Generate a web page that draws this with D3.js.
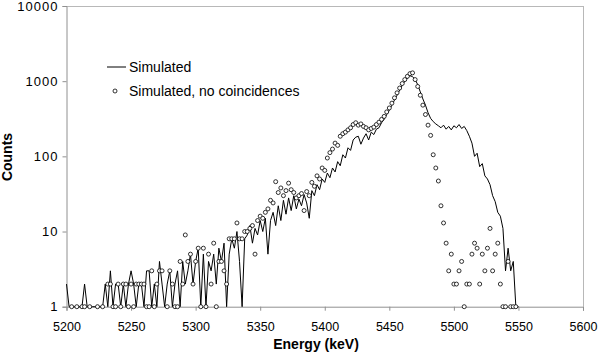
<!DOCTYPE html>
<html><head><meta charset="utf-8">
<script src="https://cdn.jsdelivr.net/npm/d3@7"></script>
<style>
html,body{margin:0;padding:0;background:#fff;}
text{font-family:"Liberation Sans",Arial,sans-serif;}
</style></head>
<body><svg id="c" width="598" height="353"></svg>
<script>
// Energy bins: start 5200 keV, 2 keV wide
const binStart = 5200, binWidth = 2;
const simulated = [
2,1,1,1,1,1,1,2,1,1,
1,1,1,1,1,2,1,3,1,2,
2,1,2,1,2,3,2,1,2,2,
1,3,3,1,2,1,4,2,1,2,
3,1,2,3,1,4,2,3,5,2,
4,6,1,5,1,4,3,5,2,6,
4,7,1,5,8,6,10,4,1,8,
9,12,7,11,9,14,10,15,5,14,
18,12,22,14,26,17,28,19,30,20,
27,22,31,24,15,35,30,42,36,50,
45,60,52,70,62,85,75,105,95,130,
120,165,180,185,145,175,200,165,210,195,
230,240,280,310,360,410,480,560,650,760,
880,1000,1100,1180,1150,1050,900,720,580,480,
380,320,290,270,255,240,260,230,250,225,
255,240,265,235,250,220,185,150,100,110,
73,80,55,50,42,30,25,18,16,11,
3,6,3,4,1,1];
const noCoincidences = [
0,0,1,0,1,0,1,1,0,1,
0,0,1,0,1,0,2,2,1,1,
2,1,2,2,1,2,1,2,2,2,
2,1,1,3,1,2,3,3,0,1,
3,2,1,1,4,2,9,4,5,2,
4,6,1,6,1,5,2,7,1,4,
4,3,2,8,8,8,13,8,8,10,
10,11,12,5,14,16,15,18,20,26,
24,46,33,38,30,35,44,36,33,28,
30,32,19,34,30,45,40,55,50,70,
65,95,112,125,150,140,185,200,210,225,
240,265,280,260,270,250,240,225,235,245,
265,285,310,340,390,440,510,600,700,810,
930,1050,1160,1260,1290,1050,850,650,480,360,
260,190,105,70,47,22,13,7,3,5,
2,2,3,4,1,2,2,5,7,6,
2,5,3,6,11,3,5,7,2,1,
1,4,1,1,1,0];
const xTicks = [5200,5250,5300,5350,5400,5450,5500,5550,5600];
const yTicks = [1,10,100,1000,10000];
const seriesNames = ["Simulated","Simulated, no coincidences"];
const xTitle = "Energy (keV)", yTitle = "Counts";

const svg = d3.select("#c");
const L = 66.5, R = 583, T = 6, B = 306.7;
const x = d3.scaleLinear().domain([5200,5600]).range([L,R]);
const y = d3.scaleLog().domain([1,10000]).range([B,T]);
const energy = i => binStart + binWidth*i;

// frame
svg.append("line").attr("x1",L).attr("x2",R).attr("y1",T+0.5).attr("y2",T+0.5).attr("stroke","#b8b8b8");
svg.append("line").attr("x1",R+0.5).attr("x2",R+0.5).attr("y1",T).attr("y2",B).attr("stroke","#b8b8b8");

// axes
const xAxis = d3.axisBottom(x).tickValues(xTicks).tickSize(4).tickPadding(11).tickFormat(d3.format("d"));
const gx = svg.append("g").attr("transform",`translate(0,${B})`).call(xAxis);
gx.select(".domain").attr("stroke","#909090");
gx.selectAll(".tick line").attr("stroke","#909090");
gx.selectAll("text").attr("font-size","12.5px").attr("fill","#000");

const yAxis = d3.axisLeft(y).tickValues(yTicks).tickSize(4).tickPadding(4).tickFormat(d3.format("d"));
const gy = svg.append("g").attr("transform",`translate(${L},0)`).call(yAxis);
gy.select(".domain").attr("stroke","#909090");
gy.selectAll(".tick line").attr("stroke","#909090");
gy.selectAll("text").attr("font-size","13px").attr("letter-spacing","1px").attr("fill","#000");

// line
const lineData = simulated.map((v,i)=>({e:energy(i),v}));
svg.append("path").datum(lineData)
  .attr("d", d3.line().x(d=>x(d.e)).y(d=>y(Math.max(1,d.v))))
  .attr("fill","none").attr("stroke","#000").attr("stroke-width",1);

// circles
const ptData = noCoincidences.map((v,i)=>({e:energy(i),v})).filter(d=>d.v>0);
svg.append("g").selectAll("circle").data(ptData).join("circle")
  .attr("cx",d=>x(d.e)).attr("cy",d=>y(d.v)).attr("r",2)
  .attr("fill","#fff").attr("stroke","#000").attr("stroke-width",0.8);

// legend
svg.append("line").attr("x1",107).attr("x2",126).attr("y1",67).attr("y2",67).attr("stroke","#000");
svg.append("text").attr("x",129).attr("y",72).attr("font-size","14px").text(seriesNames[0]);
svg.append("circle").attr("cx",115).attr("cy",91).attr("r",2).attr("fill","#fff").attr("stroke","#000").attr("stroke-width",0.8);
svg.append("text").attr("x",129).attr("y",96).attr("font-size","14px").text(seriesNames[1]);

// titles
svg.append("text").attr("x",316).attr("y",349).attr("text-anchor","middle").attr("font-size","14px").attr("font-weight","bold").text(xTitle);
svg.append("text").attr("transform","translate(12,157) rotate(-90)").attr("text-anchor","middle").attr("font-size","14px").attr("font-weight","bold").text(yTitle);
</script></body></html>
